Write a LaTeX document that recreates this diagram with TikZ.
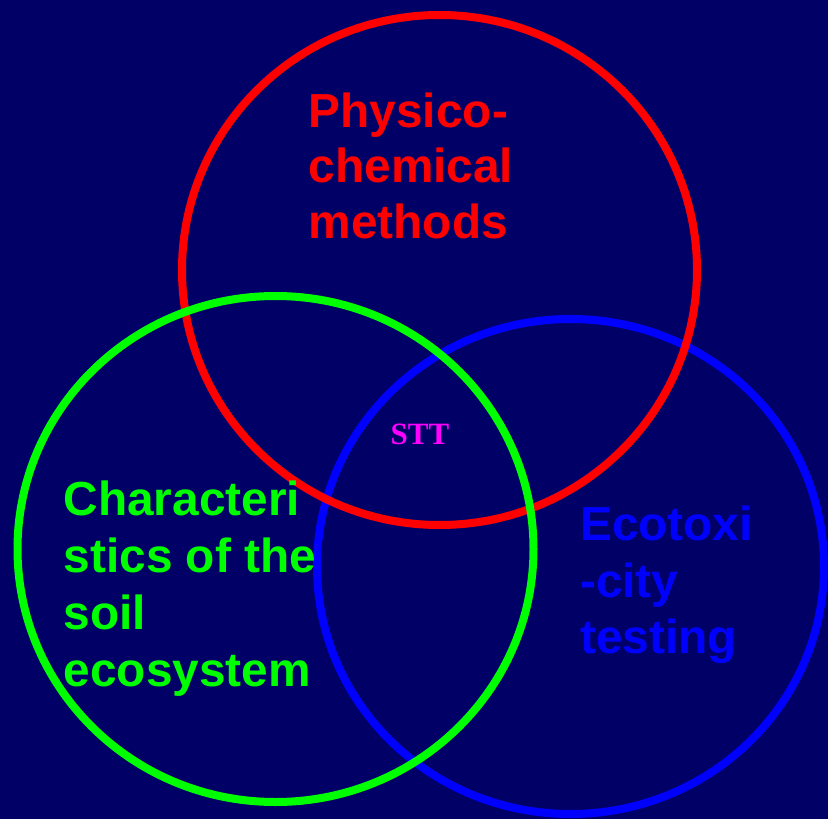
\documentclass[tikz,border=0pt]{standalone}
\usepackage{fontspec}
\setmainfont{Liberation Sans}
\newfontfamily\serifbold{Liberation Serif}
\definecolor{bgnavy}{RGB}{0,0,102}
\definecolor{vred}{RGB}{255,0,0}
\definecolor{vgreen}{RGB}{0,255,0}
\definecolor{vblue}{RGB}{0,0,255}
\definecolor{vmag}{RGB}{255,0,255}
\tikzset{
  ring/.style={line width=8pt},
  lbl/.style={anchor=base west, inner sep=0pt, font=\fontsize{47.8}{55}\selectfont\bfseries},
}
\begin{document}
\begin{tikzpicture}[x=1pt,y=-1pt]
\fill[bgnavy] (0,0) rectangle (828,819);
\useasboundingbox (0,0) rectangle (828,819);
% circles: blue, then red, then green on top
\draw[ring, vblue] (570.5,566.5) ellipse [x radius=253.5, y radius=247.5];
\draw[ring, vred] (439.5,270) ellipse [x radius=257.5, y radius=255];
\draw[ring, vgreen] (275.5,549) ellipse [x radius=258, y radius=253];
% red label
\node[lbl, text=vred] (p1) at (308.5,127) {Physico-};
\node[lbl, text=vred] (p2) at (308.5,182.5) {chemical};
\node[lbl, text=vred] (p3) at (308.5,238.5) {methods};
% green label
\node[lbl, text=vgreen] (g1) at (63.5,515) {Characteri};
\node[lbl, text=vgreen] (g2) at (63.5,572) {stics of the};
\node[lbl, text=vgreen] (g3) at (63.5,629) {soil};
\node[lbl, text=vgreen] (g4) at (63.5,686) {ecosystem};
% blue label
\node[lbl, text=vblue] (b1) at (580,540) {Ecotoxi};
\node[lbl, text=vblue] (b2) at (580,597) {-city};
\node[lbl, text=vblue] (b3) at (580,653) {testing};
% centre
\node[anchor=base, inner sep=0pt, text=vmag, font=\serifbold\fontsize{31}{36}\selectfont\bfseries] (stt) at (420,444) {STT};
\end{tikzpicture}
\end{document}
